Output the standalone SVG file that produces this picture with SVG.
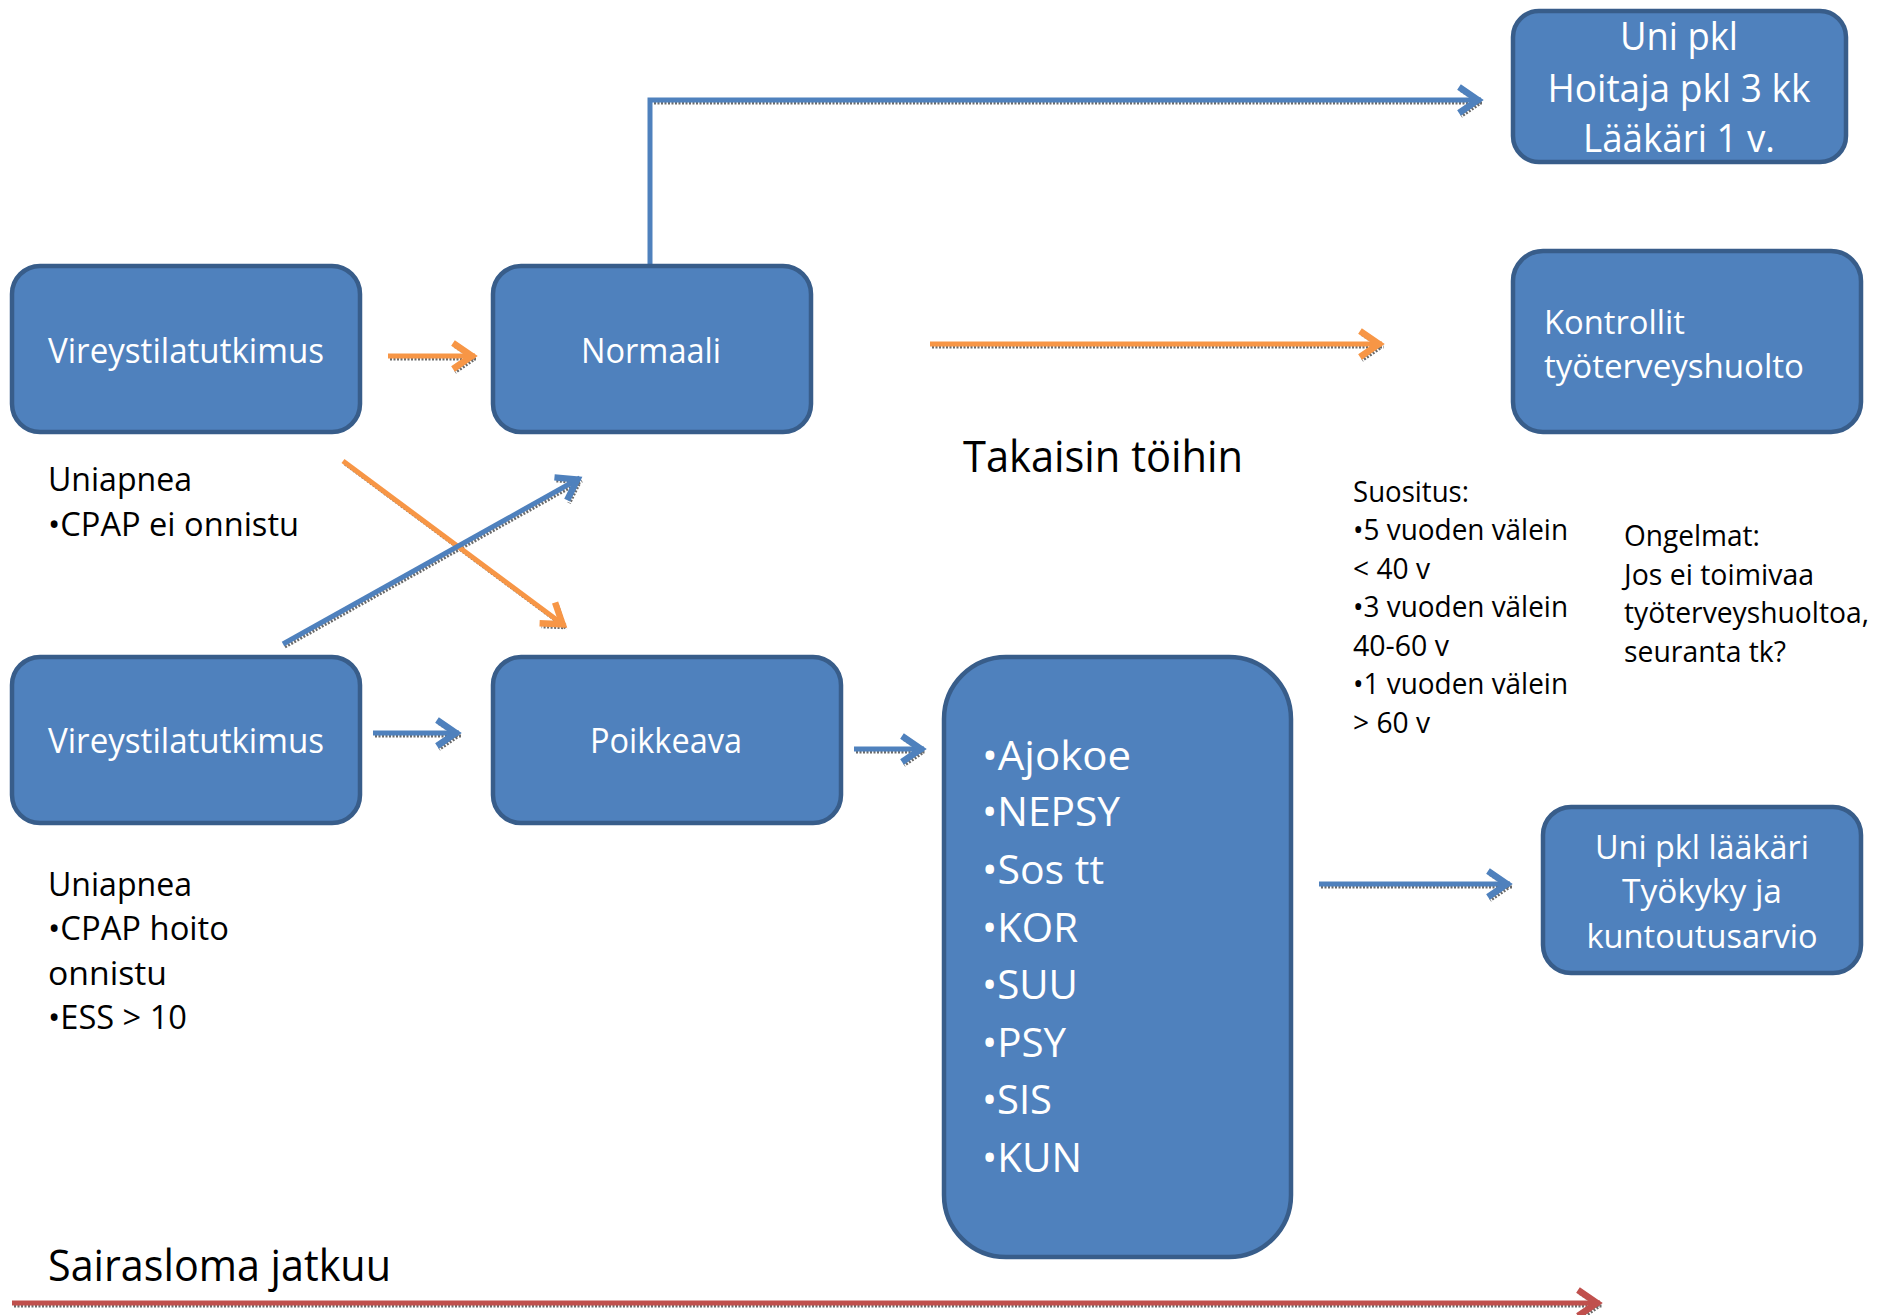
<svg xmlns="http://www.w3.org/2000/svg" width="1883" height="1315" viewBox="0 0 1883 1315">
<style>
.box{fill:#4F81BD;stroke:#385D8A;stroke-width:4.5}
.wt{fill:#FFFFFF;font-family:"Open Sans","Noto Sans",sans-serif}
.bt{fill:#000000;font-family:"Open Sans","Noto Sans",sans-serif}
.c{text-anchor:middle}
.ln{fill:none;stroke-width:5}
.sh{fill:none;stroke:#6b6b6b;stroke-width:3;stroke-dasharray:2 1.5}
</style>
<defs>
<marker id="hb" markerUnits="userSpaceOnUse" markerWidth="40" markerHeight="40" refX="27" refY="17" orient="auto"><path d="M5,4 L24,17 L5,30" fill="none" stroke="#4F81BD" stroke-width="6.5"/></marker>
<marker id="ho" markerUnits="userSpaceOnUse" markerWidth="40" markerHeight="40" refX="27" refY="17" orient="auto"><path d="M5,4 L24,17 L5,30" fill="none" stroke="#F79646" stroke-width="6.5"/></marker>
<marker id="hr" markerUnits="userSpaceOnUse" markerWidth="40" markerHeight="40" refX="27" refY="17" orient="auto"><path d="M5,4 L24,17 L5,30" fill="none" stroke="#C0504D" stroke-width="6.5"/></marker>
<marker id="hs" markerUnits="userSpaceOnUse" markerWidth="40" markerHeight="40" refX="27" refY="17" orient="auto"><path d="M5,4 L24,17 L5,30" fill="none" stroke="#6b6b6b" stroke-width="4" stroke-dasharray="2 1.5"/></marker>
</defs>
<rect width="1883" height="1315" fill="#FFFFFF"/>

<g id="connectors">
  <g transform="translate(2,3)">
    <path class="sh" d="M388,356 L475,356" marker-end="url(#hs)"/>
    <path class="sh" d="M652,100 L1481,100" marker-end="url(#hs)"/>
    <path class="sh" d="M930,344 L1382,344" marker-end="url(#hs)"/>
    <path class="sh" d="M343,461 L565,626" marker-end="url(#hs)"/>
    <path class="sh" d="M283,644 L580,478" marker-end="url(#hs)"/>
    <path class="sh" d="M373,733 L459,733" marker-end="url(#hs)"/>
    <path class="sh" d="M854,749 L924,749" marker-end="url(#hs)"/>
    <path class="sh" d="M1319,884 L1510,884" marker-end="url(#hs)"/>
    <path class="sh" d="M12,1303 L1600,1303" marker-end="url(#hs)"/>
  </g>
  <path class="ln" stroke="#F79646" d="M388,356 L475,356" marker-end="url(#ho)"/>
  <path class="ln" stroke="#4F81BD" stroke-width="4.5" d="M650,266 L650,100 L1481,100" marker-end="url(#hb)"/>
  <path class="ln" stroke="#F79646" d="M930,344 L1382,344" marker-end="url(#ho)"/>
  <path class="ln" stroke="#F79646" d="M343,461 L565,626" marker-end="url(#ho)"/>
  <path class="ln" stroke="#4F81BD" d="M283,644 L580,478" marker-end="url(#hb)"/>
  <path class="ln" stroke="#4F81BD" d="M373,733 L459,733" marker-end="url(#hb)"/>
  <path class="ln" stroke="#4F81BD" d="M854,749 L924,749" marker-end="url(#hb)"/>
  <path class="ln" stroke="#4F81BD" d="M1319,884 L1510,884" marker-end="url(#hb)"/>
  <path class="ln" stroke="#C0504D" stroke-width="6" d="M12,1303 L1600,1303" marker-end="url(#hr)"/>
</g>

<g id="n1">
  <rect class="box" x="12" y="266" width="348" height="166" rx="28"/>
  <text class="wt c" x="186" y="363" font-size="34" textLength="276" lengthAdjust="spacingAndGlyphs">Vireystilatutkimus</text>
</g>
<g id="n2">
  <rect class="box" x="493" y="266" width="318" height="166" rx="28"/>
  <text class="wt c" x="651" y="363" font-size="34" textLength="140" lengthAdjust="spacingAndGlyphs">Normaali</text>
</g>
<g id="n3">
  <rect class="box" x="1513" y="11" width="333" height="151" rx="26"/>
  <text class="wt c" x="1679" y="50" font-size="38" textLength="118" lengthAdjust="spacingAndGlyphs">Uni pkl</text>
  <text class="wt c" x="1679" y="102" font-size="38" textLength="263" lengthAdjust="spacingAndGlyphs">Hoitaja pkl 3 kk</text>
  <text class="wt c" x="1679" y="152" font-size="38" textLength="192" lengthAdjust="spacingAndGlyphs">Lääkäri 1 v.</text>
</g>
<g id="n4">
  <rect class="box" x="1513" y="251" width="348" height="181" rx="30"/>
  <text class="wt" x="1544" y="334" font-size="33" textLength="141" lengthAdjust="spacingAndGlyphs">Kontrollit</text>
  <text class="wt" x="1544" y="378" font-size="33" textLength="260" lengthAdjust="spacingAndGlyphs">työterveyshuolto</text>
</g>
<g id="n5">
  <rect class="box" x="12" y="657" width="348" height="166" rx="28"/>
  <text class="wt c" x="186" y="753" font-size="34" textLength="276" lengthAdjust="spacingAndGlyphs">Vireystilatutkimus</text>
</g>
<g id="n6">
  <rect class="box" x="493" y="657" width="348" height="166" rx="28"/>
  <text class="wt c" x="666" y="753" font-size="34" textLength="152" lengthAdjust="spacingAndGlyphs">Poikkeava</text>
</g>
<g id="n7">
  <rect class="box" x="944" y="657" width="347" height="600" rx="62"/>
  <text class="wt" x="982" y="770" font-size="41" textLength="149" lengthAdjust="spacingAndGlyphs">•Ajokoe</text>
  <text class="wt" x="982" y="826" font-size="41" textLength="138" lengthAdjust="spacingAndGlyphs">•NEPSY</text>
  <text class="wt" x="982" y="884" font-size="41" textLength="122" lengthAdjust="spacingAndGlyphs">•Sos tt</text>
  <text class="wt" x="982" y="942" font-size="41" textLength="96" lengthAdjust="spacingAndGlyphs">•KOR</text>
  <text class="wt" x="982" y="999" font-size="41" textLength="96" lengthAdjust="spacingAndGlyphs">•SUU</text>
  <text class="wt" x="982" y="1057" font-size="41" textLength="84" lengthAdjust="spacingAndGlyphs">•PSY</text>
  <text class="wt" x="982" y="1114" font-size="41" textLength="70" lengthAdjust="spacingAndGlyphs">•SIS</text>
  <text class="wt" x="982" y="1172" font-size="41" textLength="100" lengthAdjust="spacingAndGlyphs">•KUN</text>
</g>
<g id="n8">
  <rect class="box" x="1543" y="807" width="318" height="166" rx="28"/>
  <text class="wt c" x="1702" y="859" font-size="33" textLength="214" lengthAdjust="spacingAndGlyphs">Uni pkl lääkäri</text>
  <text class="wt c" x="1702" y="903" font-size="33" textLength="160" lengthAdjust="spacingAndGlyphs">Työkyky ja</text>
  <text class="wt c" x="1702" y="948" font-size="33" textLength="231" lengthAdjust="spacingAndGlyphs">kuntoutusarvio</text>
</g>

<g id="labels">
  <text class="bt" x="48" y="491" font-size="33" textLength="144" lengthAdjust="spacingAndGlyphs">Uniapnea</text>
  <text class="bt" x="48" y="536" font-size="33" textLength="251" lengthAdjust="spacingAndGlyphs">•CPAP ei onnistu</text>
  <text class="bt" x="48" y="896" font-size="33" textLength="144" lengthAdjust="spacingAndGlyphs">Uniapnea</text>
  <text class="bt" x="48" y="940" font-size="33" textLength="181" lengthAdjust="spacingAndGlyphs">•CPAP hoito</text>
  <text class="bt" x="48" y="985" font-size="33" textLength="119" lengthAdjust="spacingAndGlyphs">onnistu</text>
  <text class="bt" x="48" y="1029" font-size="33" textLength="139" lengthAdjust="spacingAndGlyphs">•ESS &gt; 10</text>
  <text class="bt" x="963" y="472" font-size="43" textLength="280" lengthAdjust="spacingAndGlyphs">Takaisin töihin</text>
  <text class="bt" x="48" y="1281" font-size="43" textLength="343" lengthAdjust="spacingAndGlyphs">Sairasloma jatkuu</text>
  <text class="bt" x="1353" y="502" font-size="29" textLength="116" lengthAdjust="spacingAndGlyphs">Suositus:</text>
  <text class="bt" x="1353" y="540" font-size="29" textLength="215" lengthAdjust="spacingAndGlyphs">•5 vuoden välein</text>
  <text class="bt" x="1353" y="579" font-size="29" textLength="77" lengthAdjust="spacingAndGlyphs">&lt; 40 v</text>
  <text class="bt" x="1353" y="617" font-size="29" textLength="215" lengthAdjust="spacingAndGlyphs">•3 vuoden välein</text>
  <text class="bt" x="1353" y="656" font-size="29" textLength="96" lengthAdjust="spacingAndGlyphs">40-60 v</text>
  <text class="bt" x="1353" y="694" font-size="29" textLength="215" lengthAdjust="spacingAndGlyphs">•1 vuoden välein</text>
  <text class="bt" x="1353" y="733" font-size="29" textLength="77" lengthAdjust="spacingAndGlyphs">&gt; 60 v</text>
  <text class="bt" x="1624" y="546" font-size="29" textLength="136" lengthAdjust="spacingAndGlyphs">Ongelmat:</text>
  <text class="bt" x="1624" y="585" font-size="29" textLength="190" lengthAdjust="spacingAndGlyphs">Jos ei toimivaa</text>
  <text class="bt" x="1624" y="623" font-size="29" textLength="245" lengthAdjust="spacingAndGlyphs">työterveyshuoltoa,</text>
  <text class="bt" x="1624" y="662" font-size="29" textLength="162" lengthAdjust="spacingAndGlyphs">seuranta tk?</text>
</g>
</svg>
